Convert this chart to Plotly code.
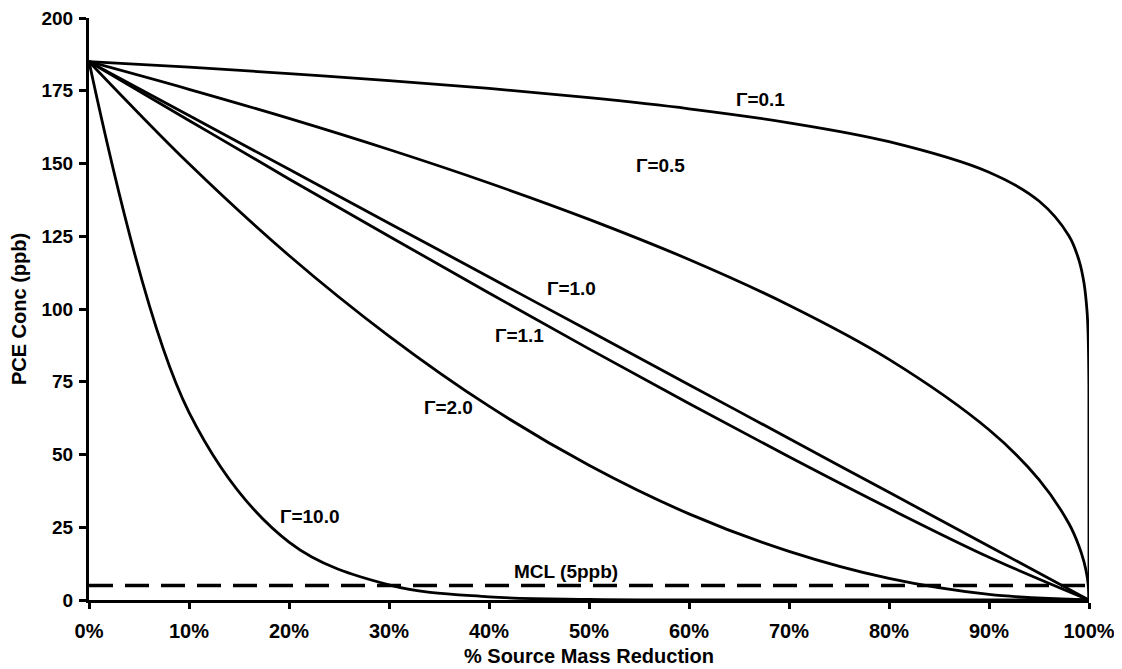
import plotly.graph_objects as go

# % source mass reduction (x) and PCE concentration (ppb)
x_main = [0, 10, 20, 30, 40, 50, 60, 70, 80, 90, 100]
x_tail = [0, 10, 20, 30, 40, 50, 60, 70, 80, 90, 95, 98, 99, 99.5, 99.8, 99.9, 99.99, 100]

g01 = [185, 183.1, 180.9, 178.5, 175.8, 172.6, 168.8, 164.0, 157.5, 147.0, 137.1, 125.1, 116.7, 108.9, 99.4, 92.7, 73.7, 0]
g05 = [185, 175.5, 165.5, 154.8, 143.3, 130.8, 117.0, 101.3, 82.7, 58.5, 41.4, 26.2, 18.5, 13.1, 8.3, 5.9, 1.9, 0]
g10 = [185, 166.5, 148.0, 129.5, 111.0, 92.5, 74.0, 55.5, 37.0, 18.5, 0]
g11 = [185, 164.8, 144.7, 125.0, 105.5, 86.3, 67.5, 49.2, 31.5, 14.7, 0]
g20 = [185, 149.9, 118.4, 90.7, 66.6, 46.3, 29.6, 16.7, 7.4, 1.9, 0]
g100 = [185, 64.5, 19.9, 5.2, 1.1, 0.2, 0.02, 0, 0, 0, 0]

mcl_x = [0, 100]
mcl_y = [5, 5]

labels = ["Γ=0.1", "Γ=0.5", "Γ=1.0", "Γ=1.1", "Γ=2.0", "Γ=10.0", "MCL (5ppb)"]
label_x = [67.1, 57.1, 48.2, 43.0, 35.9, 22.1, 47.7]
label_y = [172, 149.4, 107, 90.9, 66.3, 28.7, 9.9]

FONT = "Liberation Sans, Arial, sans-serif"
TICKS_X = [0, 10, 20, 30, 40, 50, 60, 70, 80, 90, 100]
TICKS_Y = [0, 25, 50, 75, 100, 125, 150, 175, 200]

fig = go.Figure()
line = dict(color="black", width=2.8, shape="spline", smoothing=1.0)
for xs, ys in [(x_tail, g01), (x_tail, g05), (x_main, g10), (x_main, g11), (x_main, g20), (x_main, g100)]:
    fig.add_trace(go.Scatter(x=xs, y=ys, mode="lines", line=line, showlegend=False, hoverinfo="skip"))

fig.add_trace(go.Scatter(x=mcl_x, y=mcl_y, mode="lines",
                         line=dict(color="black", width=3.5, dash="24px,12px"),
                         showlegend=False, hoverinfo="skip"))

for t, lx, ly in zip(labels, label_x, label_y):
    fig.add_annotation(x=lx, y=ly, text="<b>" + t + "</b>", showarrow=False,
                       font=dict(family=FONT, size=19, color="black"))

fig.update_layout(
    width=1122, height=669,
    margin=dict(l=81, r=41, t=10, b=77),
    paper_bgcolor="white", plot_bgcolor="white",
    font=dict(family=FONT, color="black"),
)
fig.update_xaxes(
    range=[0, 100], tickvals=TICKS_X,
    ticktext=["<b>%d%%</b>" % v for v in TICKS_X], automargin=False,
    tickfont=dict(family=FONT, size=20), showgrid=False, zeroline=False,
    showline=True, linecolor="black", linewidth=3, ticklabelstandoff=5,
    ticks="outside", ticklen=6, tickwidth=3, tickcolor="black",
    title=dict(text="<b>% Source Mass Reduction</b>", font=dict(family=FONT, size=20), standoff=8),
)
fig.update_yaxes(
    range=[0, 200], tickvals=TICKS_Y,
    ticktext=["<b>%d</b>" % v for v in TICKS_Y], automargin=False,
    ticklabeloverflow="allow",
    tickfont=dict(family=FONT, size=19), showgrid=False, zeroline=False,
    showline=True, linecolor="black", linewidth=3, ticklabelstandoff=2,
    ticks="outside", ticklen=7, tickwidth=3, tickcolor="black",
    title=dict(text="<b>PCE Conc (ppb)</b>", font=dict(family=FONT, size=20), standoff=10),
)

fig.write_html("out.html")
